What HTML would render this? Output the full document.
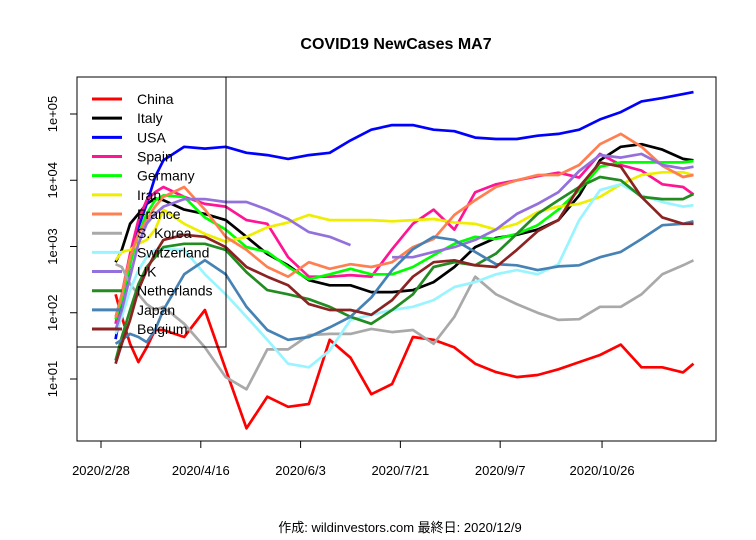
<!DOCTYPE html>
<html><head><meta charset="utf-8"><style>
body{margin:0;background:#fff}
svg{display:block;font-family:"Liberation Sans","Noto Sans CJK JP",sans-serif}
</style></head><body>
<svg id="chart" width="756" height="540" viewBox="0 0 756 540">
<rect width="756" height="540" fill="#fff"/>
<text x="396" y="49" text-anchor="middle" font-size="16" font-weight="bold">COVID19 NewCases MA7</text>
<rect x="77" y="77" width="639" height="364" fill="none" stroke="#000" stroke-width="1"/>
<g id="axes"></g>
<g id="series"></g>
<g id="legend"></g>
<text x="400" y="532" text-anchor="middle" font-size="13">作成: wildinvestors.com 最終日: 2020/12/9</text>
</svg>
<script>
const days = [7,10,14,18,22,26,30,40,50,60,70,80,90,100,110,120,130,140,150,160,170,180,190,200,210,220,230,240,250,260,270,280,285];
const seriesNames = ["China","Italy","USA","Spain","Germany","Iran","France","S. Korea","Switzerland","UK","Netherlands","Japan","Belgium"];
const china = [190,87,34,18,30,55,55,43,110,14,1.8,5.4,3.8,4.2,39,21,5.9,8.4,43,39,30,17,12.7,10.7,11.5,14,18,23,33,15,15,12.6,17];
const italy = [580,890,2200,3100,4400,5300,5000,3600,3100,2500,1400,770,520,310,260,260,205,205,220,290,490,980,1350,1500,1800,2500,5900,20000,32000,35000,29000,21000,20000];
const usa = [40,135,540,1950,4400,11200,20000,32000,30000,32000,26000,24000,21000,24000,26000,40000,58000,68000,68000,58000,55000,44000,42000,42000,47000,50000,58000,83000,107000,155000,174000,200000,214000];
const spain = [68,190,780,2500,5000,6600,7900,5600,4400,4000,2500,2200,690,350,350,370,350,910,2200,3600,1800,6600,8700,10000,11500,13000,11000,25000,17000,14000,8700,7900,6100];
const germany = [80,160,540,1550,3100,5000,5900,5600,2750,1800,980,830,490,320,380,460,380,380,490,740,1100,1400,1300,1550,2100,3600,7100,16000,18600,18600,18600,18600,19500];
const iran = [620,830,890,1100,1260,1800,3600,2200,1550,1180,1400,1950,2300,3000,2500,2500,2500,2400,2500,2600,2300,2200,1800,2200,3300,4000,4400,5600,8700,12000,13200,13200,12000];
const france = [87,190,690,1550,2500,4000,5600,7900,3600,1400,890,490,350,580,460,540,490,580,980,1300,3000,5000,7900,10000,12000,12000,17000,35000,50000,32000,16500,11200,12000];
const korea = [540,490,270,190,135,110,123,68,30,10.7,7,28,28,46,48,48,57,51,55,34,87,350,190,135,100,78,80,123,123,190,380,520,620];
const switzerland = [48,87,220,440,690,890,910,890,380,190,87,39,17,15,27,78,93,110,123,155,245,290,380,440,380,540,2500,7100,8700,5900,4700,4000,4200];
const uk = [55,110,350,1100,2200,3100,4000,5200,5200,4700,4700,3600,2600,1650,1400,1050,null,690,690,830,980,1260,1800,3100,4400,6600,13800,24000,22000,25000,17000,15000,16000];
const netherlands = [19,43,110,270,490,690,980,1100,1100,890,410,220,190,160,123,87,68,110,190,490,580,520,780,1550,3100,5000,7900,11200,10000,5600,5200,5200,6200];
const japan = [34,39,48,43,36,55,110,380,620,380,123,55,39,43,60,87,170,440,910,1400,1260,830,540,520,440,500,520,690,830,1300,2100,2200,2400];
const belgium = [17,34,78,220,440,780,1260,1500,1400,980,490,350,260,135,110,110,93,155,350,580,620,520,490,890,1700,2500,7900,18600,16000,5600,2750,2200,2200];
const yTickValues = [10,100,1000,10000,100000];
const yTickLabels = ["1e+01","1e+02","1e+03","1e+04","1e+05"];
const xTickDays = [0,48,96,144,192,241];
const xTickLabels = ["2020/2/28","2020/4/16","2020/6/3","2020/7/21","2020/9/7","2020/10/26"];

const allSeries = [china,italy,usa,spain,germany,iran,france,korea,switzerland,uk,netherlands,japan,belgium];
const colors = ["#ff0000","#000000","#0000ff","#ff1493","#00ff00","#eeee00","#ff7f50","#a9a9a9","#98f5ff","#9370db","#228b22","#4682b4","#8b2323"];
const NS = "http://www.w3.org/2000/svg";
function xs(d){return 101 + d*2.079;}
function ys(v){return 379 - (Math.log10(v)-1)*66.25;}
function mk(tag, attrs){const e=document.createElementNS(NS,tag);for(const k in attrs)e.setAttribute(k,attrs[k]);return e;}

const axes=document.getElementById('axes');
yTickValues.forEach((v,i)=>{
  const y=ys(v);
  const t=mk('line',{x1:70,x2:77,y1:y,y2:y,stroke:'#000'});
  
  
  axes.appendChild(t);
  const l=mk('text',{x:0,y:0,'font-size':13,'text-anchor':'middle',transform:`translate(57,${y}) rotate(-90)`});
  l.textContent=yTickLabels[i];
  
  
  axes.appendChild(l);
});
xTickDays.forEach((d,i)=>{
  const x=xs(d);
  const t=mk('line',{x1:x,x2:x,y1:441,y2:448,stroke:'#000'});
  
  
  axes.appendChild(t);
  const l=mk('text',{x:x,y:475,'font-size':13,'text-anchor':'middle'});
  l.textContent=xTickLabels[i];
  
  
  axes.appendChild(l);
});

const sg=document.getElementById('series');
allSeries.forEach((vals,si)=>{
  let d='',pen=false;
  vals.forEach((v,i)=>{
    if(v===null||v===undefined){pen=false;return;}
    d+=(pen?'L':'M')+xs(days[i]).toFixed(1)+','+ys(v).toFixed(1);
    pen=true;
  });
  const p=mk('path',{d:d,fill:'none',stroke:colors[si],'stroke-width':2.7,'stroke-linejoin':'round'});
  
  
  sg.appendChild(p);
});

const lg=document.getElementById('legend');
const box=mk('rect',{x:77,y:77,width:149,height:270,fill:'none',stroke:'#000'});


lg.appendChild(box);
seriesNames.forEach((n,i)=>{
  const y=99+i*19.17;
  const ln=mk('line',{x1:92,x2:122,y1:y,y2:y,stroke:colors[i],'stroke-width':3});
  
  
  lg.appendChild(ln);
  const t=mk('text',{x:137,y:y+5,'font-size':14});
  t.textContent=n;
  
  
  lg.appendChild(t);
});
</script>
</body></html>
